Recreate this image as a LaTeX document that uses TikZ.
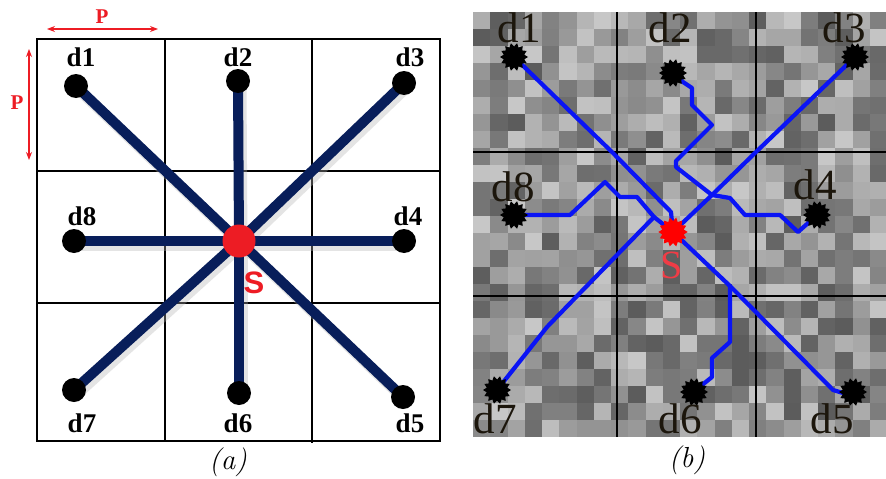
\documentclass[tikz,border=0pt]{standalone}
\usepackage{fontspec}
\newfontfamily\tms{Liberation Serif}
\newfontfamily\lsans{Liberation Sans}
\usetikzlibrary{shapes.geometric,arrows.meta}
\pgfdeclarelayer{back}
\pgfdeclarelayer{mid}
\pgfsetlayers{back,mid,main}
\definecolor{navy}{RGB}{8,30,90}
\definecolor{sred}{RGB}{237,28,36}
\definecolor{bred}{RGB}{240,60,70}
\definecolor{pblue}{RGB}{10,20,245}
\definecolor{lbl}{RGB}{28,22,12}
\tikzset{
  dot/.style={circle, fill=black, inner sep=0pt, minimum size=24pt},
  src/.style={circle, fill=sred, inner sep=0pt, minimum size=33pt},
  lab/.style={font=\tms\bfseries\fontsize{27}{27}\selectfont, text=black, inner sep=0pt},
  gridline/.style={line width=2.6pt, black},
  bgrid/.style={line width=1.8pt, black},
  spoke/.style={navy, line width=10pt},
  shadowline/.style={black!30, line width=11pt, opacity=0.35},
  dimarrow/.style={sred, line width=1.2pt, {Stealth[length=8pt,width=6pt]}-{Stealth[length=8pt,width=6pt]}},
  plab/.style={text=sred, font=\tms\bfseries\fontsize{21}{21}\selectfont, inner sep=0pt},
  bdot/.style={star, star points=14, star point ratio=0.75, fill=black, inner sep=0pt, minimum size=21pt},
  bsrc/.style={star, star points=14, star point ratio=0.75, fill=red, inner sep=0pt, minimum size=22pt},
  blab/.style={font=\tms\fontsize{43}{43}\selectfont, text=lbl, inner sep=0pt},
  route/.style={pblue, line width=4.2pt, line join=round, line cap=round},
  captext/.style={font=\itshape\fontsize{29}{29}\selectfont, inner sep=0pt}
}
\begin{document}
\begin{tikzpicture}[x=1pt,y=-1pt]
\useasboundingbox (0,0) rectangle (886,479);

% ================= panel (a) =================
\node[dot] (d1) at (76,86) {};
\node[dot] (d2) at (238,81) {};
\node[dot] (d3) at (404,83) {};
\node[dot] (d4) at (404,241) {};
\node[dot] (d5) at (403,397) {};
\node[dot] (d6) at (239,393) {};
\node[dot] (d7) at (74,390) {};
\node[dot] (d8) at (74,241) {};
\node[src] (S) at (239,241) {};

\begin{pgfonlayer}{back}
  \fill[white] (0,0) rectangle (886,479);
  \draw[gridline] (37,39) rectangle (440,441);
  \draw[gridline] (165,39) -- (165,441);
  \draw[gridline] (312,39) -- (312,443);
  \draw[gridline] (37,171) -- (440,171);
  \draw[gridline] (37,303) -- (440,303);
\end{pgfonlayer}
\begin{pgfonlayer}{mid}
  \foreach \n in {1,...,8} {
    \draw[shadowline] ([shift={(3,4)}]d\n.center) -- ([shift={(3,4)}]S.center);
  }
  \foreach \n in {1,...,8} {
    \draw[spoke] (d\n.center) -- (S.center);
  }
\end{pgfonlayer}

\node[lab] (l1) at (81,57) {d1};
\node[lab] (l2) at (238,57) {d2};
\node[lab] (l3) at (410,57) {d3};
\node[lab] (l8) at (82,216) {d8};
\node[lab] (l4) at (408,216) {d4};
\node[lab] (l7) at (82,423) {d7};
\node[lab] (l6) at (238,423) {d6};
\node[lab] (l5) at (410,423) {d5};
\node[font=\lsans\bfseries\fontsize{31}{31}\selectfont, text=sred, inner sep=0pt] (sl) at (254,283) {S};

\coordinate (pa1) at (47,29);
\coordinate (pa2) at (158,29);
\draw[dimarrow] (pa1) -- (pa2);
\node[plab] (ptop) at (102,17) {P};
\coordinate (pb1) at (29,49);
\coordinate (pb2) at (29,160);
\draw[dimarrow] (pb1) -- (pb2);
\node[plab] (pleft) at (17,103) {P};

\node[captext] (capa) at (228,462) {(a)};

% ================= panel (b) =================
\begin{pgfonlayer}{back}
  \pgfmathsetseed{4711}
  \foreach \i in {0,...,23} {
    \foreach \j in {0,...,24} {
      \pgfmathtruncatemacro{\g}{random(22,64)}
      \fill[black!\g] (473+\i*17.25, 12+\j*17) rectangle ++(17.7,17.5);
    }
  }
  \draw[bgrid] (617,12) -- (617,437);
  \draw[bgrid] (756,12) -- (756,437);
  \draw[bgrid] (473,152) -- (886,152);
  \draw[bgrid] (473,296) -- (886,296);
\end{pgfonlayer}

\node[bdot] (bd1) at (514,57) {};
\node[bdot] (bd2) at (673,73) {};
\node[bdot] (bd3) at (855,57) {};
\node[bdot] (bd4) at (817,215) {};
\node[bdot] (bd5) at (853,392) {};
\node[bdot] (bd6) at (694,392) {};
\node[bdot] (bd7) at (497,390) {};
\node[bdot] (bd8) at (514,215) {};
\node[bsrc] (bS) at (673,232) {};

\coordinate (j78) at (654,217);
\coordinate (j24) at (712,195);
\coordinate (j56) at (730,286);

\begin{pgfonlayer}{mid}
  \draw[route] (bd1.center) -- (613,153) -- (671,212) -- (bS.center);
  \draw[route] (bd8.center) -- (570,215) -- (605,182) -- (620,197) -- (637,197) -- (j78) -- (bS.center);
  \draw[route] (bd7.center) -- (547,327) -- (580,293) -- (j78);
  \draw[route] (bd2.center) -- (683,82) -- (692,88) -- (692,105) -- (712,125) -- (676,161) -- (676,167) -- (j24);
  \draw[route] (bd4.center) -- (807,224) -- (798,232) -- (780,215) -- (745,215) -- (730,198) -- (j24);
  \draw[route] (bd3.center) -- (757,151) -- (j24) -- (bS.center);
  \draw[route] (bS.center) -- (j56) -- (737,293) -- (833,390) -- (843,393) -- (bd5.center);
  \draw[route] (bd6.center) -- (702,385) -- (712,377) -- (712,358) -- (730,342) -- (j56);
\end{pgfonlayer}

\node[blab] (bl1) at (519,28) {d1};
\node[blab] (bl2) at (670,28) {d2};
\node[blab] (bl3) at (844,28) {d3};
\node[blab] (bl8) at (513,187) {d8};
\node[blab] (bl4) at (815,185) {d4};
\node[blab] (bl7) at (495,419) {d7};
\node[blab] (bl6) at (680,419) {d6};
\node[blab] (bl5) at (832,419) {d5};
\node[font=\tms\fontsize{40}{40}\selectfont, text=bred, inner sep=0pt] (bsl) at (672,265) {S};

\fill[white] (470,437) rectangle (886,479);
\node[captext] (capb) at (687,460) {(b)};
\end{tikzpicture}
\end{document}
